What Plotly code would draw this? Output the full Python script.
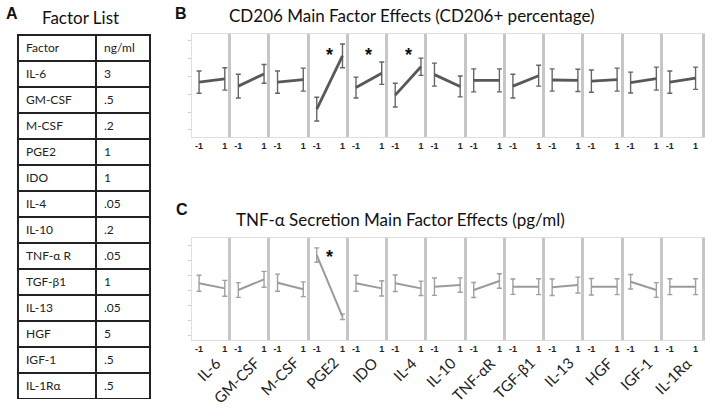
import plotly.graph_objects as go

# ---------------- data ----------------
factors = ["IL-6", "GM-CSF", "M-CSF", "PGE2", "IDO", "IL-4", "IL-10", "TNF-αR",
           "TGF-β1", "IL-13", "HGF", "IGF-1", "IL-1Rα"]
table_factors = ["IL-6", "GM-CSF", "M-CSF", "PGE2", "IDO", "IL-4", "IL-10", "TNF-α R",
                 "TGF-β1", "IL-13", "HGF", "IGF-1", "IL-1Rα"]
table_conc = ["3", ".5", ".2", "1", "1", ".05", ".2", ".05", "1", ".05", "5", ".5", ".5"]
levels = [-1, 1]

# CD206+ percentage: mean at level -1 / +1 and error half-widths
cd206_lo = [43.3, 42.2, 43.3, 35.8, 41.8, 39.7, 45.4, 43.8, 42.2, 43.9, 43.6, 43.2, 43.3]
cd206_hi = [44.2, 45.6, 44.0, 50.6, 45.8, 47.6, 42.1, 43.8, 45.1, 43.8, 44.0, 44.3, 44.4]
cd206_lo_err = [3.1, 3.3, 3.1, 3.3, 2.9, 3.3, 3.2, 3.2, 3.3, 3.1, 3.1, 2.9, 3.1]
cd206_hi_err = [3.1, 2.6, 3.2, 3.3, 3.1, 2.4, 2.9, 3.2, 2.9, 3.1, 3.2, 3.2, 3.1]
cd206_sig = ["PGE2", "IDO", "IL-4"]

# TNF-α secretion (pg/ml)
tnf_lo = [445, 400, 449, 633, 445, 445, 422, 400, 422, 418, 422, 455, 422]
tnf_hi = [411, 471, 405, 222, 411, 411, 433, 460, 422, 433, 422, 400, 422]
tnf_lo_err = [53, 49, 57, 48, 53, 55, 58, 50, 51, 55, 55, 48, 53]
tnf_hi_err = [53, 53, 49, 19, 51, 48, 48, 48, 53, 53, 53, 49, 53]
tnf_sig = ["PGE2"]

# ---------------- layout helpers ----------------
W, H = 711, 408
def px(x):
    return x / W
def py(y):
    return 1 - y / H

FONT = "Lato"
n = len(factors)
x0, x1 = 192, 702
pw = (x1 - x0) / n

fig = go.Figure()

# Table (panel A)
fig.add_trace(go.Table(
    domain=dict(x=[px(18), px(150)], y=[py(399), py(35)]),
    columnwidth=[78, 54],
    header=dict(values=["Factor", "ng/ml"], align="left", height=26,
                line=dict(color="#222", width=1.5), fill=dict(color="white"),
                font=dict(family=FONT, size=12, color="#222")),
    cells=dict(values=[table_factors, table_conc], align="left", height=26,
               line=dict(color="#222", width=1.5), fill=dict(color="white"),
               font=dict(family=FONT, size=12, color="#222")),
))

rows = [
    dict(lo=cd206_lo, hi=cd206_hi, le=cd206_lo_err, he=cd206_hi_err, sig=cd206_sig,
         top=34, bot=137, yr=[28.05, 56.7], tick0=30, dt=5, color="#585858", lw=2.8,
         ecol="#666666", star_y=50.8),
    dict(lo=tnf_lo, hi=tnf_hi, le=tnf_lo_err, he=tnf_hi_err, sig=tnf_sig,
         top=238, bot=340, yr=[66.7, 746.7], tick0=100, dt=100, color="#9a9a9a", lw=2.0,
         ecol="#a0a0a0", star_y=620),
]

annotations = []
k = 0
for r_i, r in enumerate(rows):
    for i, f in enumerate(factors):
        k += 1
        xa = "x" if k == 1 else f"x{k}"
        ya = "y" if k == 1 else f"y{k}"
        fig.add_trace(go.Scatter(
            x=levels, y=[r["lo"][i], r["hi"][i]], xaxis=xa, yaxis=ya,
            mode="lines", line=dict(color=r["color"], width=r["lw"]),
            error_y=dict(type="data", array=[r["le"][i], r["he"][i]], visible=True,
                         color=r["ecol"], thickness=1.4, width=2.5),
            showlegend=False, hoverinfo="skip"))
        dx = [px(x0 + i * pw), px(x0 + (i + 1) * pw)]
        dy = [py(r["bot"]), py(r["top"])]
        xkey = "xaxis" if k == 1 else f"xaxis{k}"
        ykey = "yaxis" if k == 1 else f"yaxis{k}"
        fig.layout[xkey] = dict(
            domain=dx, anchor=ya, range=[-1.55, 1.5], tickvals=levels,
            ticktext=[str(v) for v in levels], ticks="", showgrid=False, zeroline=False,
            showline=True, mirror=True, linecolor="#dedede", linewidth=1,
            tickfont=dict(family="Arial", size=9, color="#222", weight="bold"))
        first = (i == 0)
        last = (i == n - 1)
        fig.layout[ykey] = dict(
            domain=dy, anchor=xa, range=r["yr"], showgrid=False, zeroline=False,
            showticklabels=False,
            ticks="outside" if first else "", ticklen=3, tickcolor="#cfcfcf",
            tick0=r["tick0"], dtick=r["dt"],
            showline=True, mirror=last,
            linecolor="#e0e0e0" if first else "#c6c6c6",
            linewidth=1 if first else 3)
        if f in r["sig"]:
            annotations.append(dict(x=0, y=r["star_y"], xref=xa, yref=ya, text="<b>*</b>",
                                    xanchor="center", yanchor="middle",
                                    showarrow=False, font=dict(family="Arial", size=18, color="#111")))
        if r_i == 1:
            annotations.append(dict(x=1.15, y=py(351), xref=xa, yref="paper", text=f,
                                    textangle=-45, xanchor="right", yanchor="top",
                                    showarrow=False, font=dict(family=FONT, size=15, color="#222")))

# Titles and panel letters
titles = [
    dict(x=px(11.5), y=py(13), text="<b>A</b>", font=dict(family="Arial", size=16, color="#111")),
    dict(x=px(80), y=py(18), text="Factor List", font=dict(family=FONT, size=17, color="#111")),
    dict(x=px(180.5), y=py(13), text="<b>B</b>", font=dict(family="Arial", size=16, color="#111")),
    dict(x=px(412), y=py(16), text="CD206 Main Factor Effects (CD206+ percentage)",
         font=dict(family=FONT, size=17, color="#111")),
    dict(x=px(182), y=py(210), text="<b>C</b>", font=dict(family="Arial", size=16, color="#111")),
    dict(x=px(400), y=py(219), text="TNF-α Secretion Main Factor Effects (pg/ml)",
         font=dict(family=FONT, size=17, color="#111")),
]
for a in titles:
    a.update(xref="paper", yref="paper", showarrow=False, xanchor="center", yanchor="middle")
annotations += titles

fig.update_layout(width=W, height=H, margin=dict(l=0, r=0, t=0, b=0),
                  paper_bgcolor="white", plot_bgcolor="white", hovermode=False,
                  font=dict(family=FONT), annotations=annotations, showlegend=False)

fig.write_html("out.html", config={"displayModeBar": False},
               post_script="document.body.style.margin='0';document.body.style.overflow='hidden';")
